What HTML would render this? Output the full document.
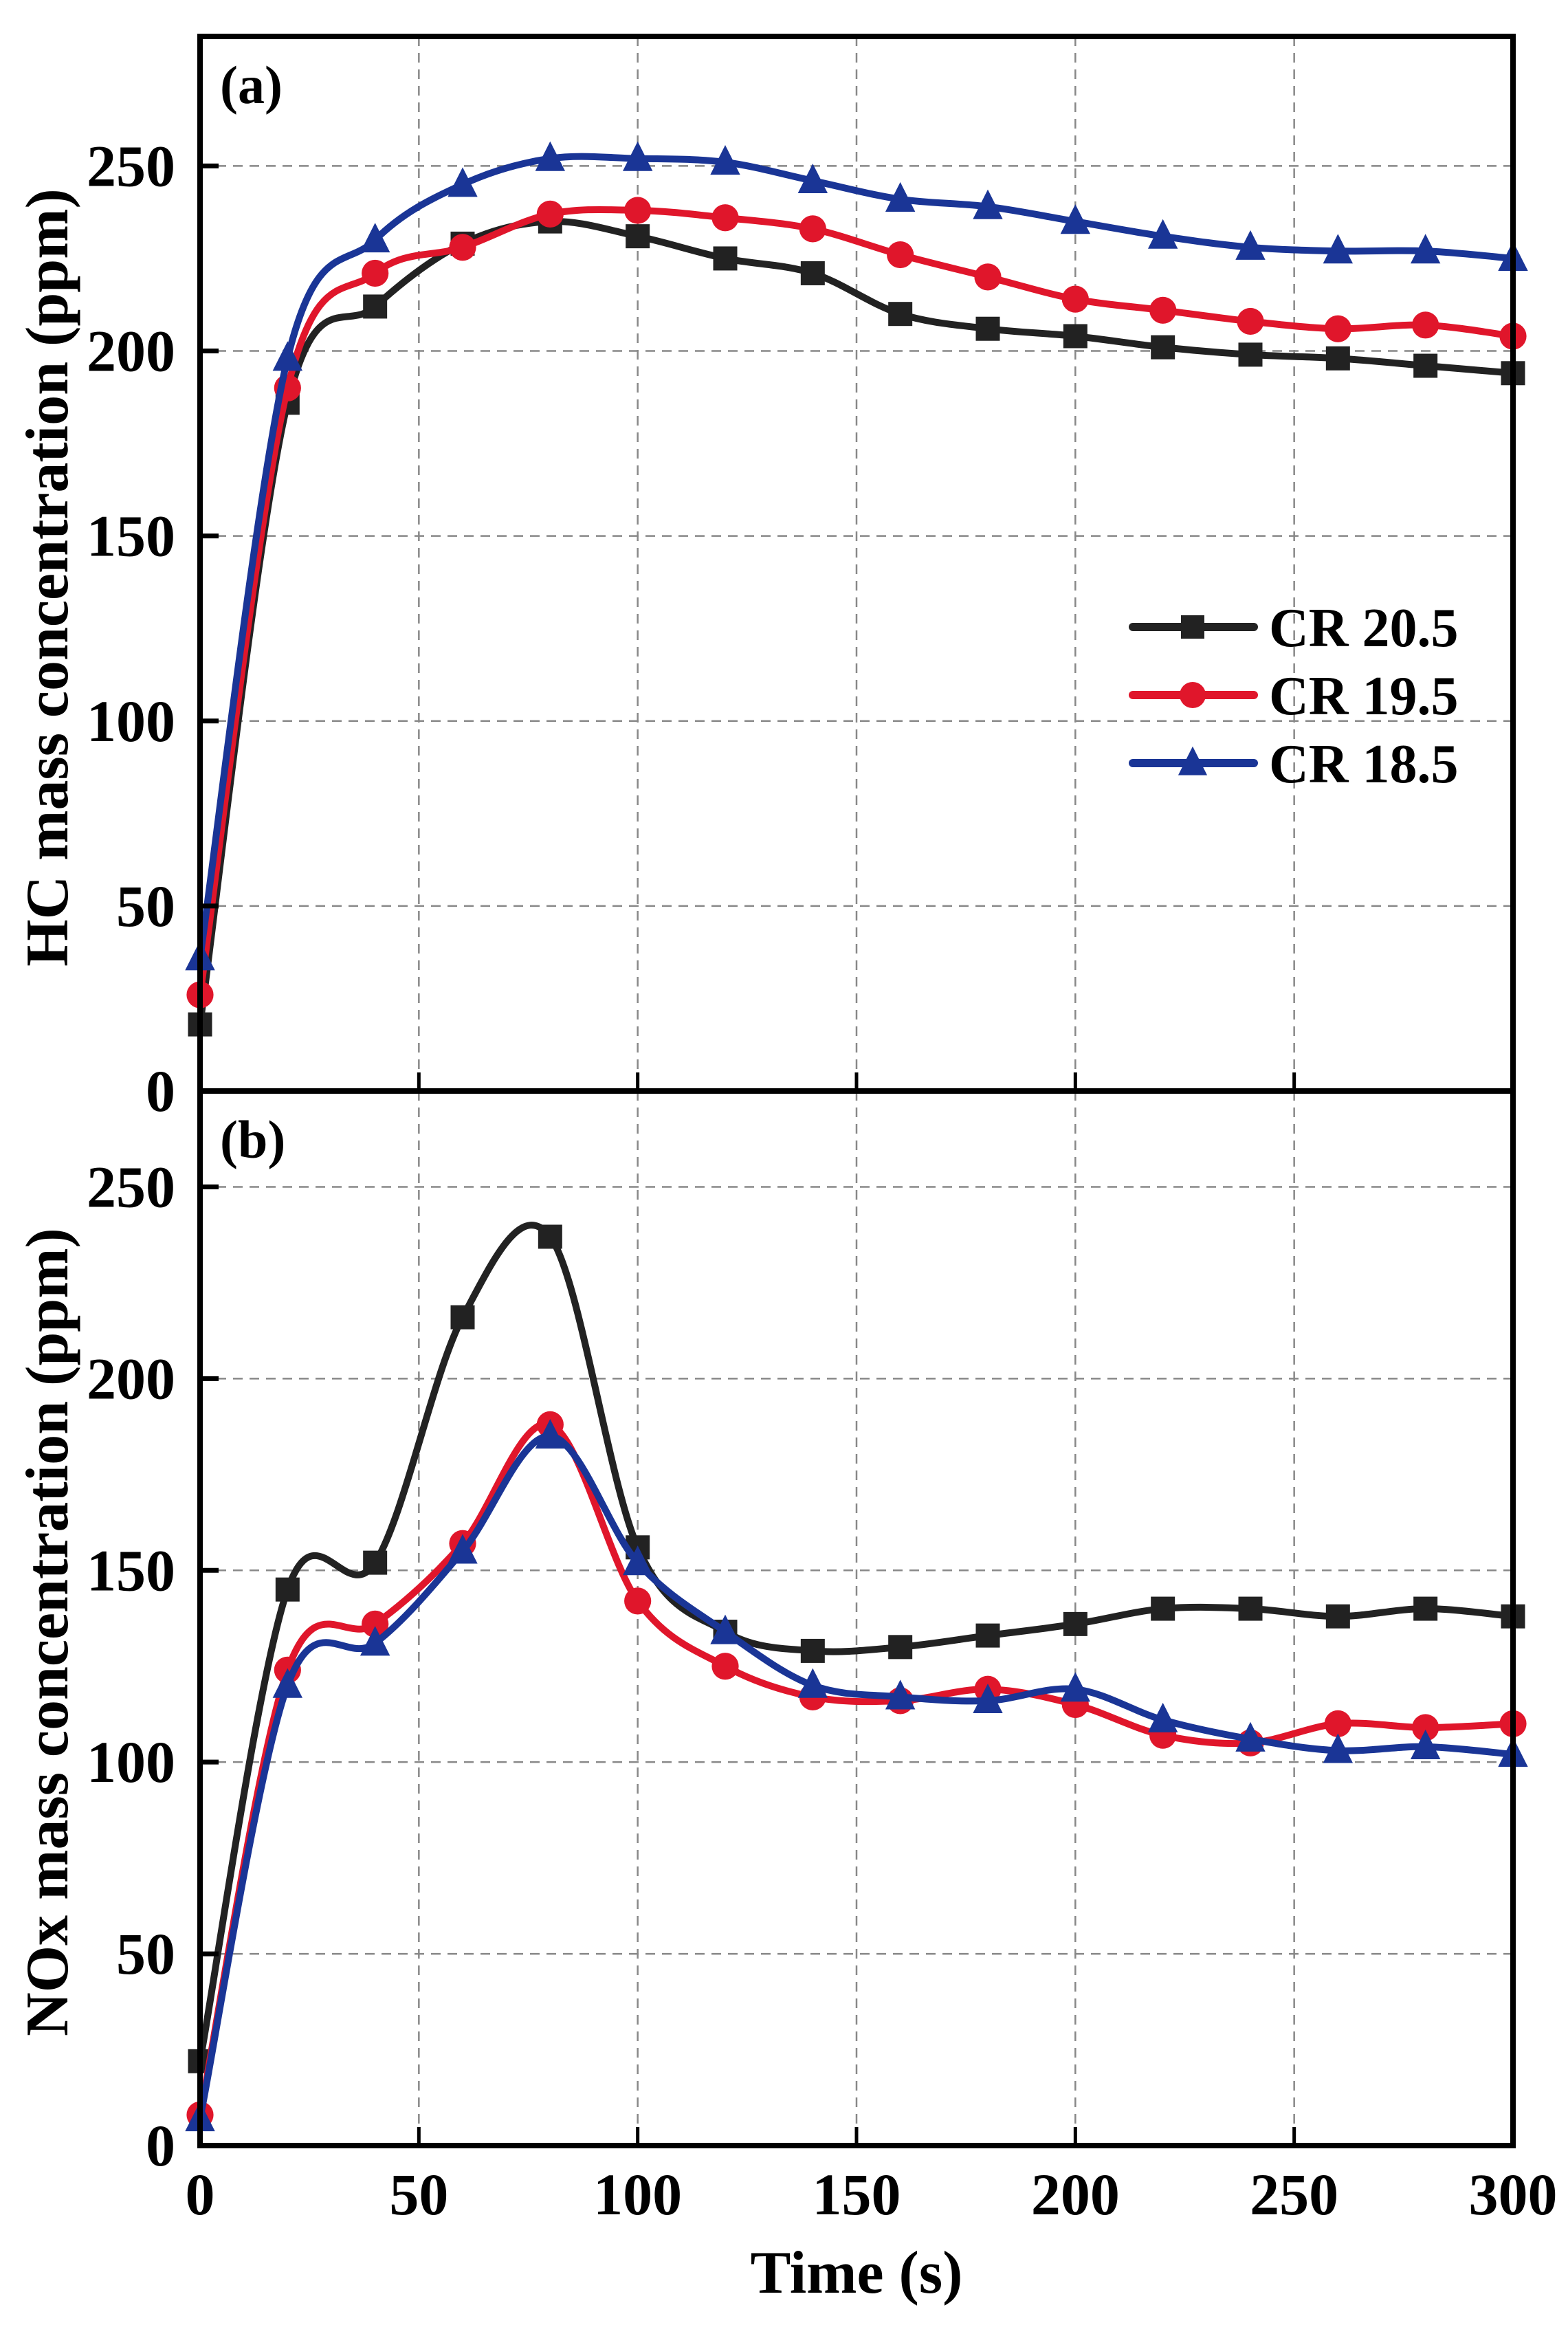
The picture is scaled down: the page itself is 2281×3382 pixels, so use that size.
<!DOCTYPE html>
<html><head><meta charset="utf-8">
<style>
html,body{margin:0;padding:0;background:#fff;}
svg{display:block;}
text{font-family:"Liberation Serif","Times New Roman",serif;font-weight:bold;fill:#000;}
</style></head>
<body>
<svg id="chart" width="2281" height="3382" viewBox="0 0 2281 3382" xmlns="http://www.w3.org/2000/svg">
</svg>
<script>
const times = [0,20,40,60,80,100,120,140,160,180,200,220,240,260,280,300];
const hc205 = [18,186,212,229,235,231,225,221,210,206,204,201,199,198,196,194];
const hc195 = [26,190,221,228,237,238,236,233,226,220,214,211,208,206,207,204];
const hc185 = [36,198,230,245,252,252,251,246,241,239,235,231,228,227,227,225];
const nox205 = [22,145,152,216,237,156,134,129,130,133,136,140,140,138,140,138];
const nox195 = [8,124,136,157,188,142,125,117,116,119,115,107,105,110,109,110];
const nox185 = [7,120,131,155,185,152,134,120,117,116,119,111,106,103,104,102];
const xTicks = [0,50,100,150,200,250,300];
const yTicks = [0,50,100,150,200,250];
const seriesNames = ["CR 20.5","CR 19.5","CR 18.5"];

const NS="http://www.w3.org/2000/svg";
const svg=document.getElementById('chart');
const X0=291,X1=2201;
const colors=["#222222","#e0162b","#1a3596"];
const markers=["square","circle","triangle"];
function xs(v){return X0+(v-0)/(300-0)*(X1-X0);}
function mk(tag,attrs,parent){const e=document.createElementNS(NS,tag);for(const k in attrs)e.setAttribute(k,attrs[k]);(parent||svg).appendChild(e);return e;}

const panels=[
 {top:53,bottom:1587,ymax:285,label:"(a)",title:"HC mass concentration (ppm)",data:[hc205,hc195,hc185],name:"hc-panel",legend:true},
 {top:1587,bottom:3121,ymax:275,label:"(b)",title:"NOx mass concentration (ppm)",data:[nox205,nox195,nox185],name:"nox-panel",legend:false}
];

function marker(g,type,cx,cy,color,s){
  let e;
  if(type==="square"){e=mk('rect',{x:cx-s/2,y:cy-s/2,width:s,height:s,fill:color},g);}
  else if(type==="circle"){e=mk('circle',{cx:cx,cy:cy,r:s*0.56,fill:color},g);}
  else {const h=s*1.15;e=mk('polygon',{points:`${cx},${cy-h*0.62} ${cx-s*0.62},${cy+h*0.45} ${cx+s*0.62},${cy+h*0.45}`,fill:color},g);}
  return e;
}
function splinePath(pts){
  let d=`M${pts[0][0]},${pts[0][1]}`;
  for(let i=0;i<pts.length-1;i++){
    const p0=pts[Math.max(i-1,0)],p1=pts[i],p2=pts[i+1],p3=pts[Math.min(i+2,pts.length-1)];
    const c1=[p1[0]+(p2[0]-p0[0])/6,p1[1]+(p2[1]-p0[1])/6];
    const c2=[p2[0]-(p3[0]-p1[0])/6,p2[1]-(p3[1]-p1[1])/6];
    d+=` C${c1[0]},${c1[1]} ${c2[0]},${c2[1]} ${p2[0]},${p2[1]}`;
  }
  return d;
}

panels.forEach((p,pi)=>{
  const ys=v=>p.bottom-v/p.ymax*(p.bottom-p.top);
  const g=mk('g',{});
  
  
  xTicks.slice(1,-1).forEach(t=>{
    const l=mk('line',{x1:xs(t),x2:xs(t),y1:p.top,y2:p.bottom,stroke:"#888",'stroke-width':2.5,'stroke-dasharray':"14,10"},g);
    
    
  });
  yTicks.slice(1).forEach(t=>{
    const l=mk('line',{x1:X0,x2:X1,y1:ys(t),y2:ys(t),stroke:"#888",'stroke-width':2.5,'stroke-dasharray':"14,10"},g);
    
    
  });
  p.data.forEach((arr,si)=>{
    const sg=mk('g',{},g);
    
    
    const pts=arr.map((v,i)=>[xs(times[i]),ys(v)]);
    const path=mk('path',{d:splinePath(pts),fill:'none',stroke:colors[si],'stroke-width':10,'stroke-linejoin':'round'},sg);
    
    
    pts.forEach(pt=>{
      const m=marker(sg,markers[si],pt[0],pt[1],colors[si],35);
      
      
    });
  });
  const fr=mk('rect',{x:X0,y:p.top,width:X1-X0,height:p.bottom-p.top,fill:'none',stroke:'#000','stroke-width':8},g);
  
  
  xTicks.slice(1,-1).forEach(t=>{
    const l=mk('line',{x1:xs(t),x2:xs(t),y1:p.bottom,y2:p.bottom-27,stroke:'#000','stroke-width':5},g);
    
    
  });
  yTicks.forEach(t=>{
    const l=mk('line',{x1:X0,x2:X0+27,y1:ys(t),y2:ys(t),stroke:'#000','stroke-width':7},g);
    
    
    const tx=mk('text',{x:255,y:ys(t)+29,'text-anchor':'end','font-size':86},g);
    tx.textContent=t;
    
    
  });
  const lb=mk('text',{x:320,y:p.top+97,'font-size':78},g);
  lb.textContent=p.label;
  
  
  const cy=(p.top+p.bottom)/2;
  const yt=mk('text',{x:0,y:0,'text-anchor':'middle','font-size':88,transform:`translate(98,${cy+20}) rotate(-90)`},g);
  yt.textContent=p.title;
  
  
  if(p.legend){
    const lg=mk('g',{},g);
    
    
    [912,1011,1110].forEach((y,si)=>{
      const e=mk('g',{},lg);
      
      
      mk('line',{x1:1648,x2:1824,y1:y,y2:y,stroke:colors[si],'stroke-width':12,'stroke-linecap':'round'},e);
      marker(e,markers[si],1735,y,colors[si],34);
      const t=mk('text',{x:1846,y:y+28,'font-size':80},e);
      t.textContent=seriesNames[si];
    });
  }
});
xTicks.forEach(t=>{
  const tx=mk('text',{x:xs(t),y:3221,'text-anchor':'middle','font-size':86});
  tx.textContent=t;
  
  
});
const xt=mk('text',{x:1246,y:3335,'text-anchor':'middle','font-size':88});
xt.textContent="Time (s)";


</script>
</body></html>
